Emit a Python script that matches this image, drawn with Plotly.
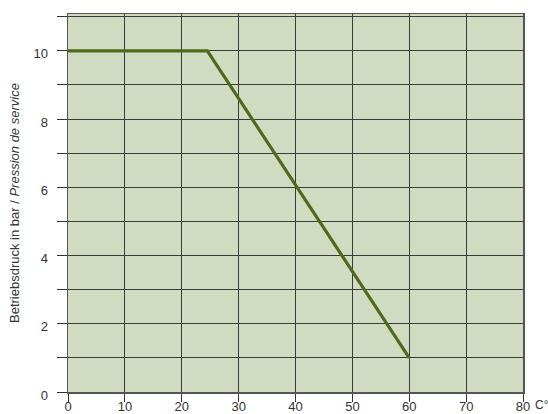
import plotly.graph_objects as go

# Data
temp_c = [0, 24.5, 60]
pressure_bar = [10, 10, 1]
x_tick_vals = [0, 10, 20, 30, 40, 50, 60, 70, 80]
x_tick_text = ["0", "10", "20", "30", "40", "50", "60", "70", "80"]
y_tick_vals = [0, 2, 4, 6, 8, 10]
y_tick_text = ["0", "2", "4", "6", "8", "10"]
y_title_de = "Betriebsdruck in bar / "
y_title_fr = "Pression de service"
x_unit = "C°"

W, H = 548, 414
L, R, T, B = 68, 25, 14, 22

fig = go.Figure()
fig.add_trace(go.Scatter(
    x=temp_c, y=pressure_bar, mode="lines",
    line=dict(color="#4e6b1c", width=3.2),
    hoverinfo="skip", showlegend=False,
))

font = dict(family="Liberation Sans, Arial, sans-serif", size=13, color="#333333")

fig.update_layout(
    width=W, height=H,
    margin=dict(l=L, r=R, t=T, b=B, pad=0, autoexpand=False),
    paper_bgcolor="white",
    plot_bgcolor="#d0dbc1",
    font=font,
    hovermode=False,
    xaxis=dict(
        range=[0, 80], tickvals=x_tick_vals, ticktext=x_tick_text,
        ticks="outside", ticklen=8, tickwidth=1, tickcolor="#333",
        ticklabelstandoff=-6,
        showgrid=True, gridcolor="#3a3a3a", gridwidth=1,
        showline=True, linecolor="#555", linewidth=1.5, mirror=True,
        zeroline=False, fixedrange=True, automargin=False,
    ),
    yaxis=dict(
        range=[0, 11.08], tickvals=y_tick_vals, ticktext=y_tick_text,
        ticks="outside", ticklen=10, tickwidth=1, tickcolor="#333",
        ticklabelshift=3, ticklabelstandoff=6,
        minor=dict(dtick=1, tick0=0, ticks="outside", ticklen=10, tickcolor="#333",
                   showgrid=True, gridcolor="#3a3a3a", gridwidth=1),
        showgrid=True, gridcolor="#3a3a3a", gridwidth=1,
        showline=True, linecolor="#555", linewidth=1.5, mirror=True,
        zeroline=False, fixedrange=True, automargin=False,
    ),
)

plot_w = W - L - R
fig.add_annotation(
    text=y_title_de + "<i>" + y_title_fr + "</i>",
    xref="paper", yref="paper",
    x=(14 - L) / plot_w, y=0.5,
    textangle=-90, showarrow=False,
    xanchor="center", yanchor="middle",
    font=dict(family="Liberation Sans, Arial, sans-serif", size=13, color="#333333"),
)
fig.add_annotation(
    text=x_unit,
    xref="paper", yref="paper",
    x=1, xshift=11, y=0, yshift=-13,
    showarrow=False, xanchor="left", yanchor="middle",
    borderpad=0,
    font=dict(family="Liberation Sans, Arial, sans-serif", size=12, color="#333333"),
)

fig.write_html(
    "out.html",
    config={"displayModeBar": False, "staticPlot": True},
    post_script="document.body.style.margin='0';"
                "document.documentElement.style.overflow='hidden';"
                "document.body.style.overflow='hidden';",
)
